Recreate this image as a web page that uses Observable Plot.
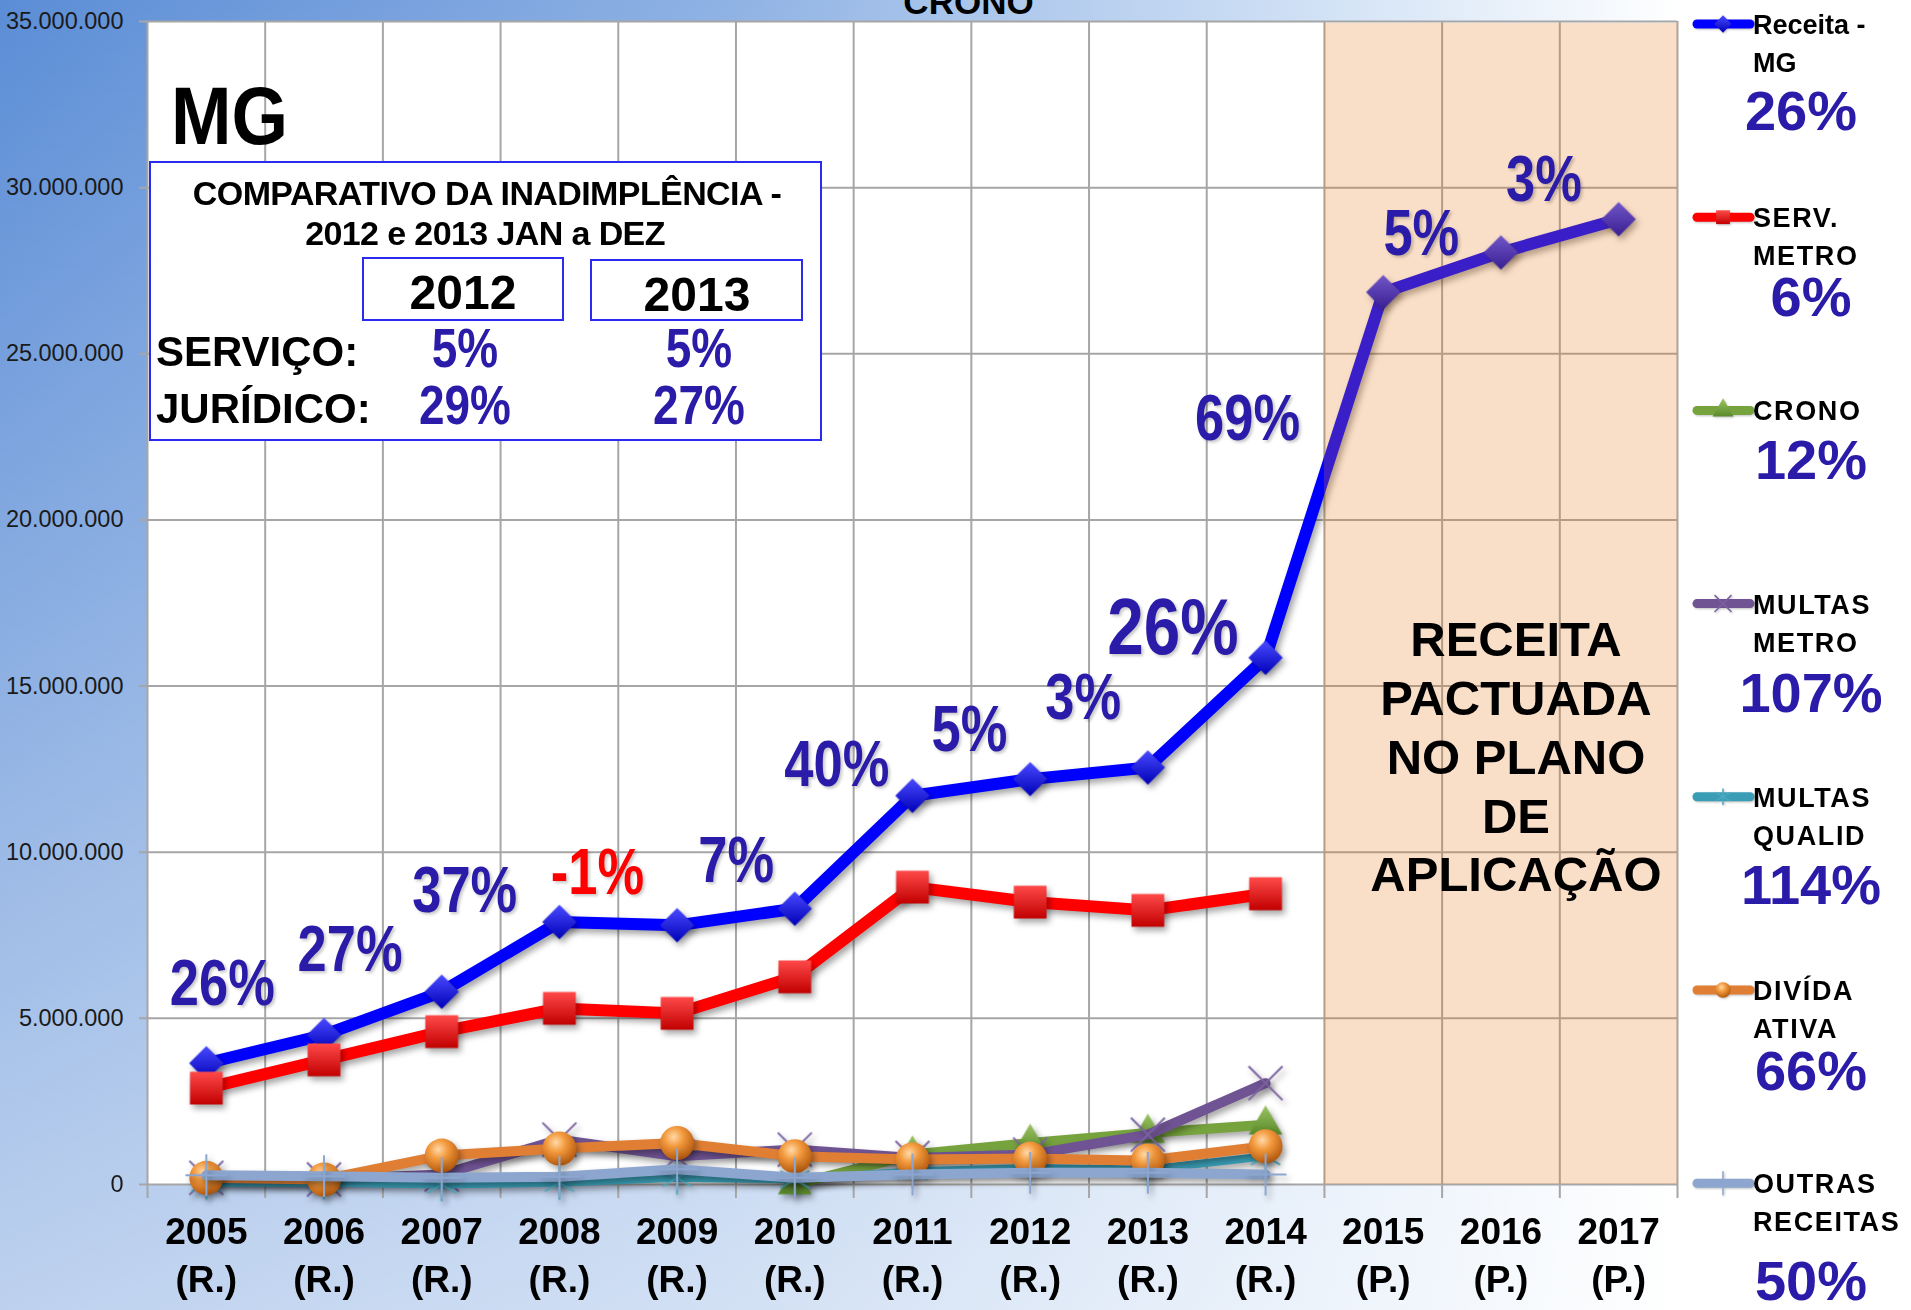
<!DOCTYPE html>
<html><head><meta charset="utf-8">
<script src="https://cdn.jsdelivr.net/npm/d3@7"></script>
<script src="https://cdn.jsdelivr.net/npm/@observablehq/plot@0.6"></script>
<style>
html,body{margin:0;padding:0;background:#fff;}
#wrap{position:relative;width:1911px;height:1310px;overflow:hidden;
 background: linear-gradient(to bottom, rgba(255,255,255,0) 0%, rgba(255,255,255,0.6) 100%),
             linear-gradient(to right, #5b8dd6 0%, #8fb2e4 38%, #cfe0f5 68%, #ffffff 88%);
 font-family: "Liberation Sans", Arial, sans-serif;}
#wrap svg{position:absolute;left:0;top:0;}
svg.main g[aria-label="line"], svg.main g[aria-label="dot"]{filter: drop-shadow(3px 4px 3px rgba(0,0,0,0.35));}
</style></head><body>
<svg width="0" height="0" style="position:absolute">
<defs>
 <radialGradient id="gOrange" cx="40%" cy="32%" r="70%">
   <stop offset="0%" stop-color="#FFD9A8"/><stop offset="40%" stop-color="#F39A3E"/><stop offset="100%" stop-color="#B3580D"/>
 </radialGradient>
 <linearGradient id="gBlue" x1="0" y1="0" x2="0" y2="1">
   <stop offset="0%" stop-color="#4a4aff"/><stop offset="100%" stop-color="#0000b8"/>
 </linearGradient>
 <linearGradient id="gRed" x1="0" y1="0" x2="0" y2="1">
   <stop offset="0%" stop-color="#ff4a4a"/><stop offset="100%" stop-color="#c20000"/>
 </linearGradient>
 <linearGradient id="gGreen" x1="0" y1="0" x2="0" y2="1">
   <stop offset="0%" stop-color="#9cc463"/><stop offset="100%" stop-color="#5a8a2a"/>
 </linearGradient>
</defs></svg>
<div id="wrap"></div>
<script>
// ---------------- DATA ----------------
const years = [2005, 2006, 2007, 2008, 2009, 2010, 2011, 2012, 2013, 2014, 2015, 2016, 2017];
const yearTags = ["(R.)","(R.)","(R.)","(R.)","(R.)","(R.)","(R.)","(R.)","(R.)","(R.)","(P.)","(P.)","(P.)"];
const receita        = [3650000, 4500000, 5800000, 7900000, 7800000, 8300000, 11700000, 12200000, 12550000, 15850000, 26850000, 28050000, 29050000];
const servMetro      = [2900000, 3750000, 4600000, 5300000, 5150000, 6250000, 8950000, 8500000, 8250000, 8750000, null, null, null];
const crono          = [null, null, null, null, null, 0, 900000, 1250000, 1550000, 1800000, null, null, null];
const multasMetro    = [200000, 150000, 300000, 1350000, 850000, 1050000, 800000, 900000, 1500000, 3050000, null, null, null];
const multasQualid   = [50000, 50000, 0, 50000, 200000, 150000, 400000, 500000, 450000, 850000, null, null, null];
const dividaAtiva    = [200000, 150000, 870000, 1080000, 1250000, 850000, 750000, 780000, 720000, 1150000, null, null, null];
const outrasReceitas = [280000, 250000, 200000, 230000, 460000, 200000, 300000, 350000, 350000, 300000, null, null, null];
const growthLabels = ["26%", "27%", "37%", "-1%", "7%", "40%", "5%", "3%", "26%", "69%", "5%", "3%"];
const yTicks = [0, 5000000, 10000000, 15000000, 20000000, 25000000, 30000000, 35000000];
const legendNames = [["Receita -", "MG"], ["SERV.", "METRO"], ["CRONO"], ["MULTAS", "METRO"], ["MULTAS", "QUALID"], ["DIVÍDA", "ATIVA"], ["OUTRAS", "RECEITAS"]];
const legendPct = ["26%", "6%", "12%", "107%", "114%", "66%", "50%"];
const chartTitle = "CRONO";
const stateLabel = "MG";
const pactuadaText = "RECEITA\nPACTUADA\nNO PLANO\nDE\nAPLICAÇÃO";
const boxTitle = ["COMPARATIVO DA INADIMPLÊNCIA -", "2012 e 2013 JAN a DEZ"];
const boxYears = ["2012", "2013"];
const boxRows = [["SERVIÇO:", "5%", "5%"], ["JURÍDICO:", "29%", "27%"]];

// ---------------- STYLE ----------------
const SANS = "'Liberation Sans',Arial,sans-serif";
const INDIGO = "#2a1ba8";
const GRID = "#a6a6a6";
const NARROW_RATIO = 0.82; // Arial Narrow look: horizontally compressed bold sans

const series = [
  {values: receita,        color: "#0000ff", width: 12, symbol: "diamond2", r: 15.5, fill: "url(#gBlue)"},
  {values: servMetro,      color: "#ff0000", width: 12, symbol: "square",   r: 18.5, fill: "url(#gRed)"},
  {values: crono,          color: "#77a33f", width: 10, symbol: "triangle", r: 12.5, fill: "url(#gGreen)"},
  {values: multasMetro,    color: "#6f5393", width: 10, symbol: "times",    r: 15.5, stroke: "#7a62a0", sw: 2},
  {values: multasQualid,   color: "#3a9db5", width: 8,  symbol: "asterisk", r: 16,   stroke: "#4aa9c0", sw: 1.8},
  {values: dividaAtiva,    color: "#e07e33", width: 10, symbol: "circle",   r: 17,   fill: "url(#gOrange)"},
  {values: outrasReceitas, color: "#8ca6cf", width: 10, symbol: "plus",     r: 13.5, stroke: "#8ca6cf", sw: 2}
];

const rowsOf = vals => years.map((year, i) => ({year, value: vals[i]}));
const half = 0.5;
const boundaries = years.map(y => y - half).concat([years[years.length - 1] + half]);
const projYears = years.filter((y, i) => yearTags[i] === "(P.)");
const projSpan = [{x1: projYears[0] - half, x2: projYears[projYears.length - 1] + half}];
const fmtY = v => d3.format(",")(v).replace(/,/g, ".");

// label nudges (px) relative to each Receita point
const labelNudge = [[16,-79],[26,-84],[23,-100],[38,-48],[59,-64],[42,-143],[57,-65],[53,-81],[25,-139],[-18,-238],[38,-58],[43,-72]];

const marks = [
  Plot.frame({fill: "white", stroke: "none"}),
  Plot.ruleY(yTicks, {y: d => d, stroke: GRID, strokeWidth: 2, insetLeft: -8}),
  Plot.ruleX(boundaries, {x: d => d, stroke: GRID, strokeWidth: 2, insetBottom: -14})
];
for (const s of series) {
  const rows = rowsOf(s.values);
  marks.push(Plot.line(rows, {x: "year", y: "value", stroke: s.color, strokeWidth: s.width, strokeLinejoin: "round", strokeLinecap: "round"}));
  const pts = rows.filter(d => d.value != null);
  if (s.fill) marks.push(Plot.dot(pts, {x: "year", y: "value", symbol: s.symbol, r: s.r, fill: s.fill, stroke: "none"}));
  else marks.push(Plot.dot(pts, {x: "year", y: "value", symbol: s.symbol, r: s.r, stroke: s.stroke, strokeWidth: s.sw}));
}
marks.push(Plot.rect(projSpan, {x1: "x1", x2: "x2", y1: () => 0, y2: () => yTicks[yTicks.length - 1], fill: "#e87c24", fillOpacity: 0.25, insetTop: 2}));
marks.push(Plot.text([pactuadaText], {x: () => projYears[1], frameAnchor: "middle", text: d => d, dx: 15, dy: 152, lineAnchor: "middle", lineHeight: 1.2, fontSize: 49, fontWeight: "bold", fontFamily: SANS, fill: "#000"}));
growthLabels.forEach((t, i) => {
  marks.push(Plot.text([{year: years[i], value: receita[i], t}], {
    x: "year", y: "value", text: "t", dx: labelNudge[i][0], dy: labelNudge[i][1],
    fontSize: i === 8 ? 80 : 64, fontWeight: "bold", fontFamily: SANS,
    fill: t.startsWith("-") ? "#ff0000" : INDIGO, lineAnchor: "middle"
  }));
});
marks.push(Plot.text(yTicks, {y: d => d, frameAnchor: "left", dx: -24, textAnchor: "end", text: fmtY, fontSize: 23.5, fontFamily: SANS, fill: "#1a1a1a"}));
marks.push(Plot.text(years, {x: d => d, frameAnchor: "bottom", lineAnchor: "top", dy: 25, text: (d, i) => `${d}\n${yearTags[i]}`, fontSize: 37, fontWeight: "bold", fontFamily: SANS, lineHeight: 1.3, fill: "#000"}));
marks.push(Plot.text([chartTitle], {frameAnchor: "top", lineAnchor: "bottom", dy: -8, dx: 56, text: d => d, fontSize: 35, fontWeight: "bold", fontFamily: SANS, fill: "#000"}));

const chart = Plot.plot({
  width: 1911, height: 1310,
  marginLeft: 147, marginRight: 234, marginTop: 21, marginBottom: 126,
  x: {type: "linear", domain: [boundaries[0], boundaries[boundaries.length - 1]], axis: null},
  y: {domain: [0, yTicks[yTicks.length - 1]], axis: null},
  style: {background: "transparent", overflow: "visible"},
  marks
});
chart.classList.add("main");
document.getElementById("wrap").appendChild(chart);

function narrow(sel) {
  sel.each(function () {
    const w = this.getComputedTextLength();
    this.setAttribute("textLength", (w * NARROW_RATIO).toFixed(1));
    this.setAttribute("lengthAdjust", "spacingAndGlyphs");
  });
}
// growth percentage labels: compress them to the narrow look and add a soft shadow
const growthSel = d3.select(chart).selectAll("text").filter(function () {
  return /%$/.test(this.textContent) && this.querySelector("tspan") == null;
});
narrow(growthSel);
growthSel.style("filter", "drop-shadow(2px 2px 1.5px rgba(0,0,0,0.22))");

// ---------------- OVERLAY: state label, comparison box, legend ----------------
const ov = d3.select("#wrap").append("svg").attr("width", 1911).attr("height", 1310).style("pointer-events", "none");
ov.append("text").attr("x", 171).attr("y", 144).attr("textLength", 117).attr("lengthAdjust", "spacingAndGlyphs")
  .attr("font-family", SANS).attr("font-weight", "bold").attr("font-size", 82).attr("fill", "#000").text(stateLabel);

const bx = ov.append("g");
bx.append("rect").attr("x", 150).attr("y", 162).attr("width", 671).attr("height", 278).attr("fill", "#fff").attr("stroke", "#2b2bf0").attr("stroke-width", 2);
[[487, 205], [485, 245]].forEach(([x, y], i) => bx.append("text").attr("x", x).attr("y", y).attr("text-anchor", "middle")
  .attr("font-family", SANS).attr("font-weight", "bold").attr("font-size", 34).attr("letter-spacing", -0.6).attr("fill", "#000").text(boxTitle[i]));
const colX = [463, 697];
[[363, 258, 200, 62], [591, 260, 211, 60]].forEach(([x, y, w, h], i) => {
  bx.append("rect").attr("x", x).attr("y", y).attr("width", w).attr("height", h).attr("fill", "none").attr("stroke", "#2b2bf0").attr("stroke-width", 2);
  bx.append("text").attr("x", colX[i]).attr("y", y + 51).attr("text-anchor", "middle").attr("font-family", SANS).attr("font-weight", "bold")
    .attr("font-size", 48).attr("fill", "#000").text(boxYears[i]);
});
[366, 423].forEach((by, r) => {
  bx.append("text").attr("x", 156).attr("y", by).attr("font-family", SANS).attr("font-weight", "bold").attr("font-size", 42).attr("fill", "#000").text(boxRows[r][0]);
  [1, 2].forEach(c => bx.append("text").attr("x", colX[c - 1] + 2).attr("y", by + 1).attr("text-anchor", "middle").attr("font-family", SANS)
    .attr("font-weight", "bold").attr("font-size", 56).attr("fill", INDIGO).attr("class", "boxpct").text(boxRows[r][c]));
});
narrow(bx.selectAll("text.boxpct"));

const pctDy = [86, 79, 49, 88, 87, 80, 97];
const symMap = {diamond2: d3.symbolDiamond2, square: d3.symbolSquare, triangle: d3.symbolTriangle, times: d3.symbolTimes, asterisk: d3.symbolAsterisk, circle: d3.symbolCircle, plus: d3.symbolPlus};
legendNames.forEach((lines, i) => {
  const s = series[i];
  const ly = 24 + i * 193.2;
  const g = ov.append("g").style("filter", "drop-shadow(1px 1px 1px rgba(0,0,0,0.25))");
  g.append("line").attr("x1", 1697).attr("x2", 1750).attr("y1", ly).attr("y2", ly).attr("stroke", s.color).attr("stroke-width", 9).attr("stroke-linecap", "round");
  const p = g.append("path").attr("transform", `translate(1723,${ly})`).attr("d", d3.symbol(symMap[s.symbol], 190)());
  if (s.fill) p.attr("fill", s.fill); else p.attr("fill", "none").attr("stroke", s.stroke).attr("stroke-width", 1.5);
  lines.forEach((t, k) => ov.append("text").attr("x", 1753).attr("y", ly + 10 + k * 38).attr("font-family", SANS).attr("font-weight", "bold")
    .attr("font-size", 27).attr("letter-spacing", i === 0 ? 0 : 1.6).attr("fill", "#000").text(t));
  ov.append("text").attr("x", i === 0 ? 1801 : 1811).attr("y", ly + pctDy[i] + 20).attr("text-anchor", "middle").attr("font-family", SANS)
    .attr("font-weight", "bold").attr("font-size", 56).attr("fill", INDIGO).text(legendPct[i]);
});
</script>
</body></html>
